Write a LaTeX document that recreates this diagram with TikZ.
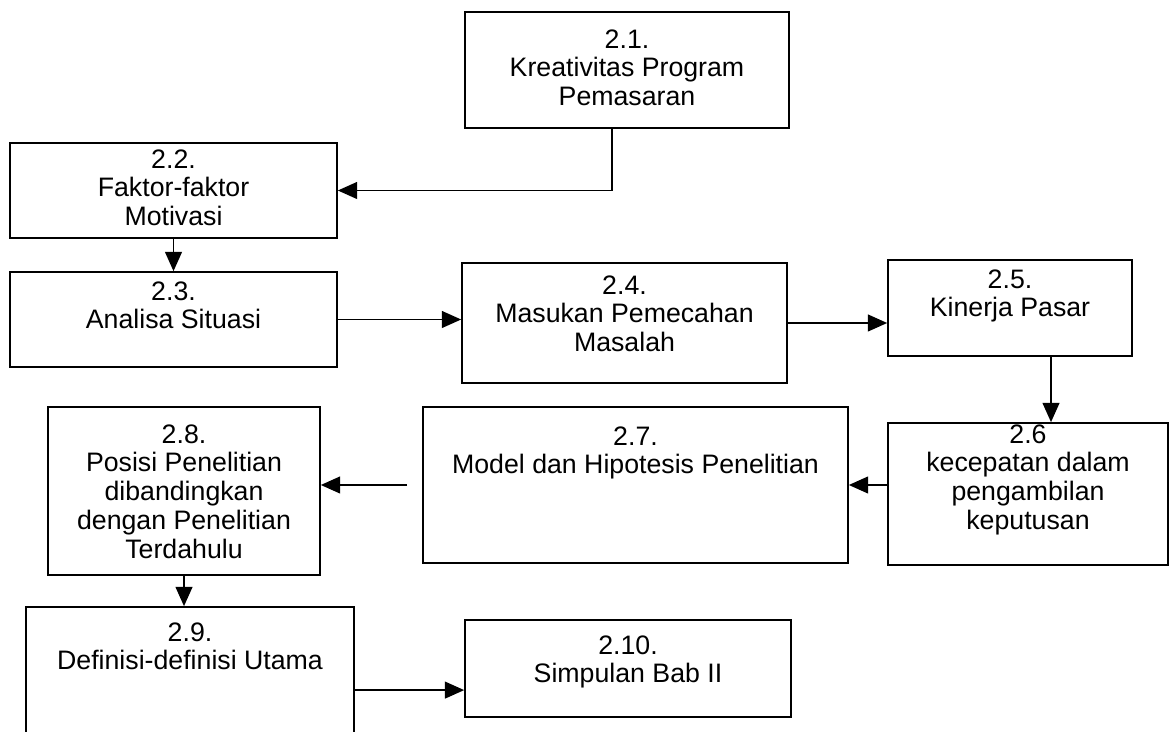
\documentclass[tikz,border=0pt]{standalone}
\usepackage{fontspec}
\setmainfont{Liberation Sans}
\usepackage{tikz}
\usetikzlibrary{arrows.meta,positioning}
\newcommand{\boxfont}{\fontsize{19}{20.5}\selectfont}

\begin{document}
\begin{tikzpicture}[x=1cm,y=1cm,
  box/.style={draw,line width=1.2pt,inner sep=0pt},
  txt/.style={align=center,inner sep=0pt,font=\boxfont},
  arr/.style={-{Triangle[length=0.48cm,width=0.42cm]},line width=1.1pt}]
  % page frame
  \useasboundingbox (0,0) rectangle (29.275,18.275);
  \clip (0,0) rectangle (29.275,18.275);

  % boxes
  \node[box,minimum width=8.1cm,minimum height=2.9cm] (b21) at (15.675,16.525) {};
  \node[box,minimum width=8.175cm,minimum height=2.375cm] (b22) at (4.3375,13.5125) {};
  \node[box,minimum width=8.175cm,minimum height=2.375cm] (b23) at (4.3375,10.2875) {};
  \node[box,minimum width=8.125cm,minimum height=3.0cm] (b24) at (15.6125,10.2) {};
  \node[box,minimum width=6.1cm,minimum height=2.4cm] (b25) at (25.25,10.575) {};
  \node[box,minimum width=7.0cm,minimum height=3.55cm] (b26) at (25.7,5.925) {};
  \node[box,minimum width=10.625cm,minimum height=3.9cm] (b27) at (15.8875,6.15) {};
  \node[box,minimum width=6.8cm,minimum height=4.2cm] (b28) at (4.6,6.0) {};
  \node[box,minimum width=8.2cm,minimum height=3.825cm] (b29) at (4.75,1.1875) {};
  \node[box,minimum width=8.15cm,minimum height=2.425cm] (b210) at (15.7,1.5625) {};

  % box texts
  \node[txt,below=0.45cm of b21.north] (t21) {2.1.\\Kreativitas Program\\Pemasaran};
  \node[txt,below=0.175cm of b22.north] (t22) {2.2.\\Faktor-faktor\\Motivasi};
  \node[txt,below=0.25cm of b23.north] (t23) {2.3.\\Analisa Situasi};
  \node[txt,below=0.325cm of b24.north] (t24) {2.4.\\Masukan Pemecahan\\Masalah};
  \node[txt,below=0.25cm of b25.north] (t25) {2.5.\\Kinerja Pasar};
  \node[txt,below=0.05cm of b26.north] (t26) {2.6\\kecepatan dalam\\pengambilan\\keputusan};
  \node[txt,below=0.5cm of b27.north] (t27) {2.7.\\Model dan Hipotesis Penelitian};
  \node[txt,below=0.45cm of b28.north] (t28) {2.8.\\Posisi Penelitian\\dibandingkan\\dengan Penelitian\\Terdahulu};
  \node[txt,below=0.4cm of b29.north] (t29) {2.9.\\Definisi-definisi Utama};
  \node[txt,below=0.4cm of b210.north] (t210) {2.10.\\Simpulan Bab II};

  % flow
  \draw[arr] ([xshift=-0.375cm]b21.south) |- (b22);
  \draw[arr] (b22) -- (b23);
  \draw[arr] (b23.east) -- (b23.east -| b24.west);
  \draw[arr] (b24.east) -- (b24.east -| b25.west);
  \draw[arr] ([xshift=1.025cm]b25.south) -- ([xshift=1.025cm]b25.south |- b26.north);
  \draw[arr] (b27.east -| b26.west) -- (b27.east);
  \draw[arr,shorten <=0.375cm] (b27.west) -- (b27.west -| b28.east);
  \draw[arr] (b28.south) -- (b28.south |- b29.north);
  \draw[arr] ([yshift=-0.54cm]b210.west -| b29.east) -- ([yshift=-0.54cm]b210.west);
\end{tikzpicture}
\end{document}
